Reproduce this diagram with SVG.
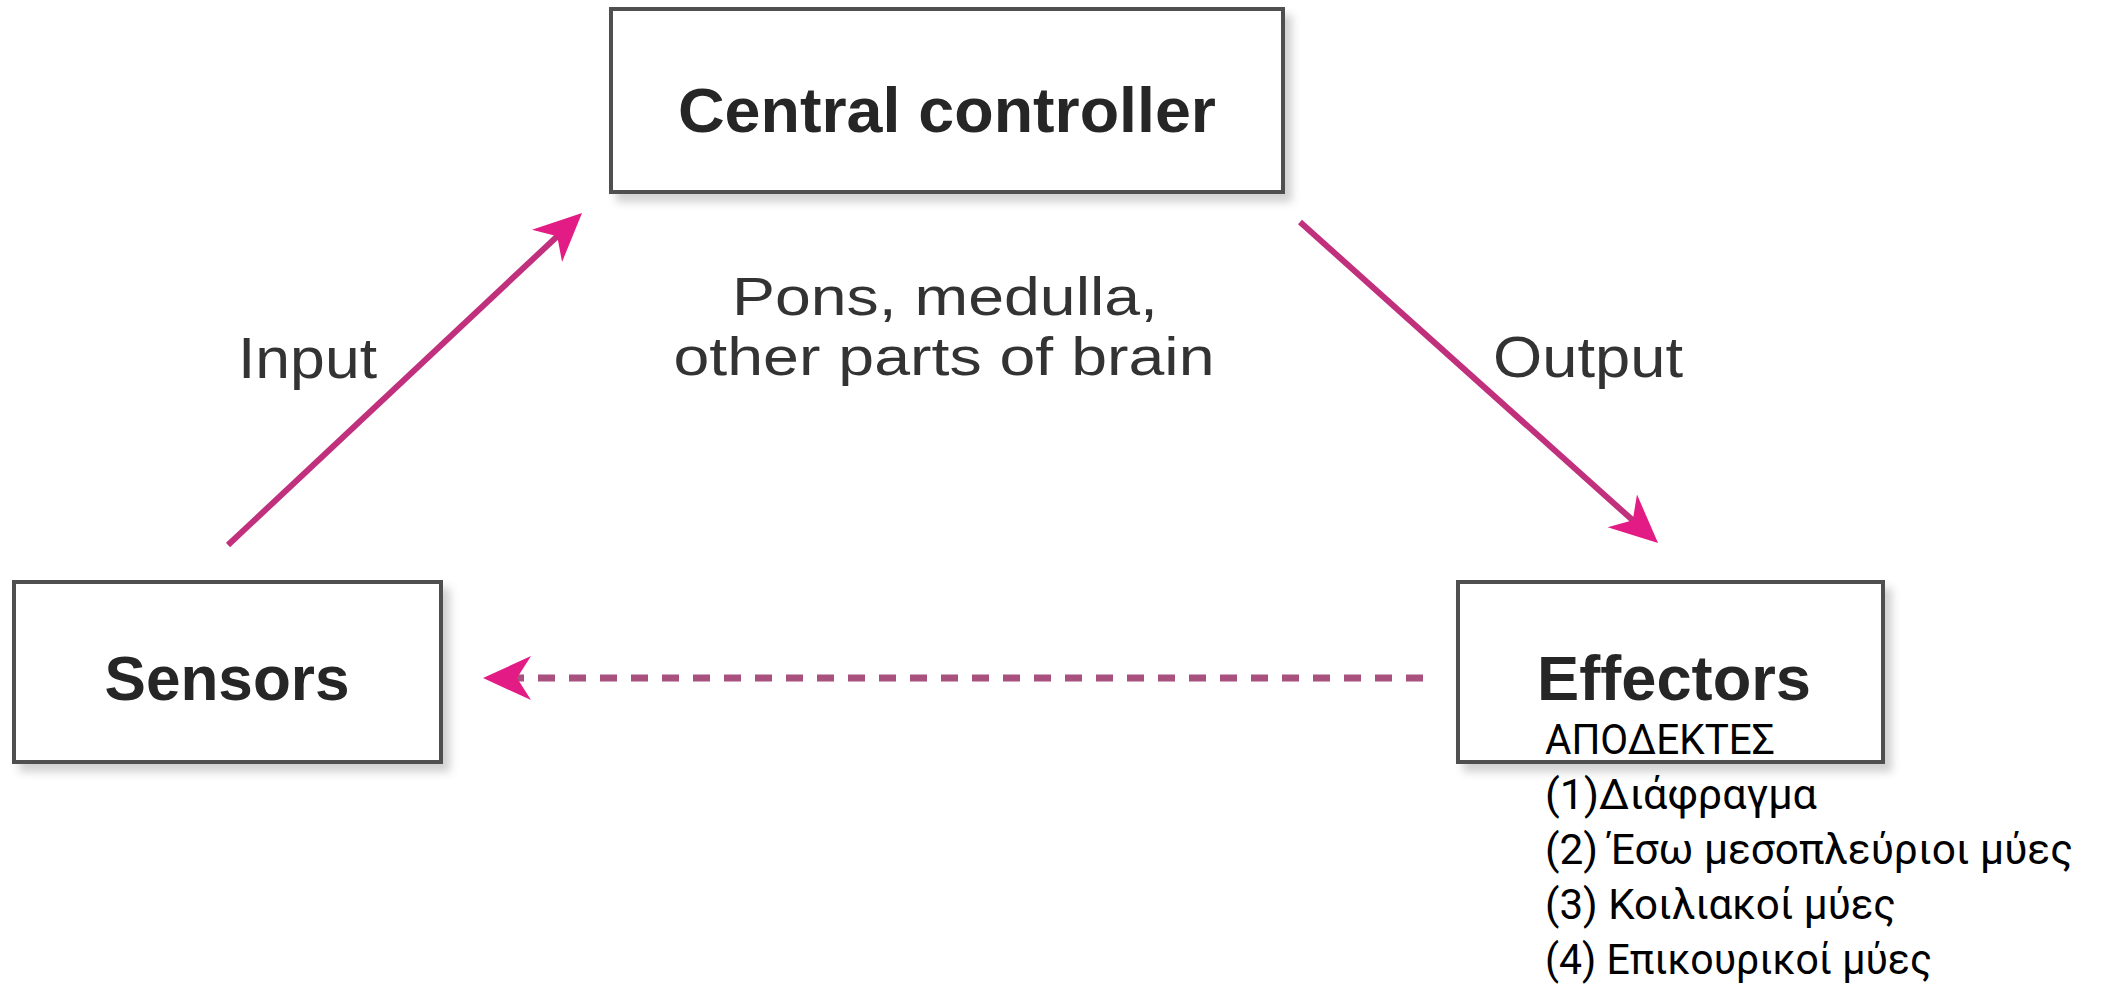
<svg xmlns="http://www.w3.org/2000/svg" width="2103" height="989" viewBox="0 0 2103 989">
<style>
.box{fill:#fff;stroke:#505050;stroke-width:4;filter:url(#sh)}
.bl{font-family:"Liberation Sans",Arial,sans-serif;font-weight:bold;font-size:63px;fill:#262626}
.rl{font-family:"Liberation Sans",Arial,sans-serif;font-size:58px;fill:#333}
.sub{font-size:53px}
.gr{font-family:Roboto,"Open Sans","Noto Sans",sans-serif;font-size:43px;fill:#000}
.ln{stroke:#c0307c;stroke-width:6;fill:none;marker-end:url(#ah)}
.dash{stroke:#a8507e;stroke-width:7;stroke-dasharray:17 14;fill:none;marker-end:url(#ah)}
</style>
<defs>
<filter id="sh" x="-5%" y="-10%" width="115%" height="130%"><feDropShadow dx="7" dy="8" stdDeviation="4" flood-color="#000" flood-opacity="0.18"/></filter>
<marker id="ah" markerUnits="userSpaceOnUse" viewBox="0 -24 50 48" refX="20" refY="0" markerWidth="50" markerHeight="48" orient="auto"><path d="M48,0 L0,-22 L14,0 L0,22 Z" fill="#e31b84"/></marker>
</defs>
<rect width="2103" height="989" fill="#fff"/>
<g id="connectors">
<line class="ln" x1="228" y1="545" x2="561.6" y2="232.2"/>
<line class="ln" x1="1300" y1="222" x2="1637.2" y2="524.3"/>
<line class="dash" x1="1423" y1="678" x2="511" y2="678"/>
<text class="rl" x="238" y="378" textLength="139" lengthAdjust="spacingAndGlyphs">Input</text>
<text class="rl" x="1493" y="377" textLength="190" lengthAdjust="spacingAndGlyphs">Output</text>
</g>
<g id="central">
<rect class="box" x="611" y="9" width="672" height="183"/>
<text class="bl" x="947" y="132" text-anchor="middle" textLength="538" lengthAdjust="spacingAndGlyphs">Central controller</text>
<text class="rl sub" x="945" y="315" text-anchor="middle" textLength="426" lengthAdjust="spacingAndGlyphs">Pons, medulla,</text>
<text class="rl sub" x="944" y="375" text-anchor="middle" textLength="541" lengthAdjust="spacingAndGlyphs">other parts of brain</text>
</g>
<g id="sensors">
<rect class="box" x="14" y="582" width="427" height="180"/>
<text class="bl" x="227" y="700" text-anchor="middle" textLength="245" lengthAdjust="spacingAndGlyphs">Sensors</text>
</g>
<g id="effectors">
<rect class="box" x="1458" y="582" width="425" height="180"/>
<text class="bl" x="1537" y="700" textLength="274" lengthAdjust="spacingAndGlyphs">Effectors</text>
<text class="gr" x="1545" y="754" textLength="230" lengthAdjust="spacingAndGlyphs">ΑΠΟΔΕΚΤΕΣ</text>
<text class="gr" x="1545" y="809" textLength="272" lengthAdjust="spacingAndGlyphs">(1)Διάφραγμα</text>
<text class="gr" x="1545" y="864" textLength="528" lengthAdjust="spacingAndGlyphs">(2) Έσω μεσοπλεύριοι μύες</text>
<text class="gr" x="1545" y="919" textLength="351" lengthAdjust="spacingAndGlyphs">(3) Κοιλιακοί μύες</text>
<text class="gr" x="1545" y="974" textLength="387" lengthAdjust="spacingAndGlyphs">(4) Επικουρικοί μύες</text>
</g>
</svg>
